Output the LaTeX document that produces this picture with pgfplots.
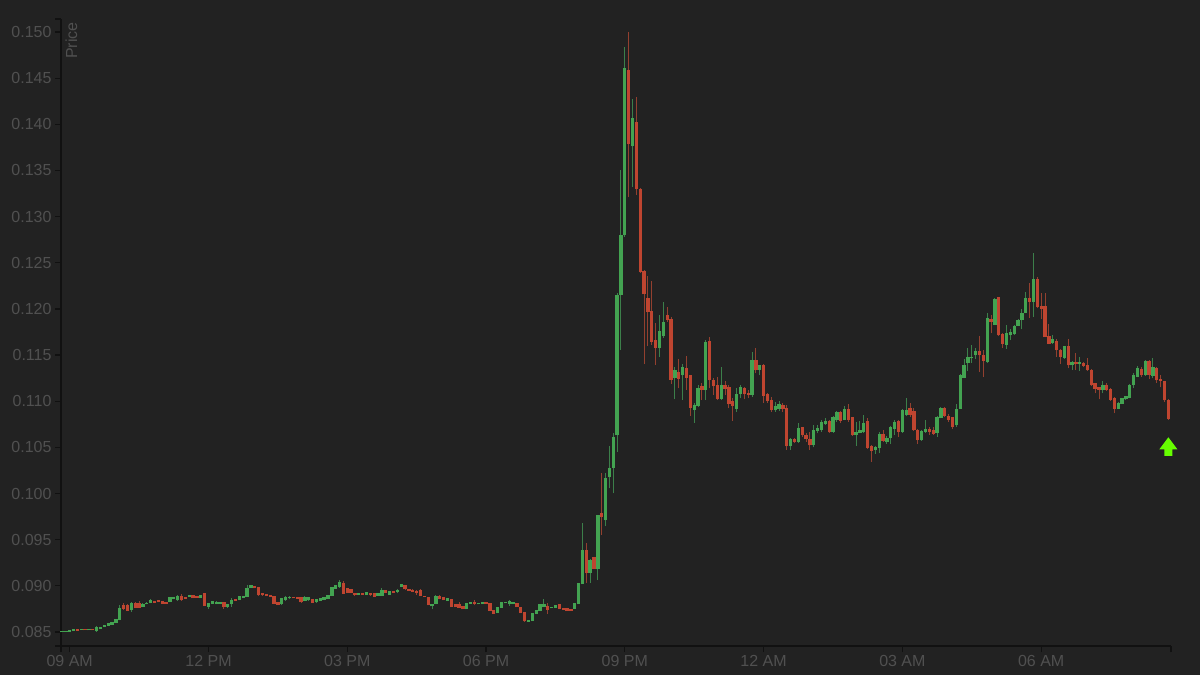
\documentclass[border=0pt]{standalone}
\usepackage{pgfplots}
\usepackage{pgfplotstable}
\usepackage{fontspec}
\setmainfont{Liberation Sans}
\pgfplotsset{compat=1.18}

\definecolor{bg}{HTML}{222222}
\definecolor{axiscol}{HTML}{111111}
\definecolor{txt}{HTML}{505050}
\definecolor{up}{HTML}{43A351}
\definecolor{down}{HTML}{BF4530}
\definecolor{upwick}{HTML}{3C7F4A}
\definecolor{downwick}{HTML}{93402F}

% i = 5 minute candle number
\pgfplotstableread{
i o h l c
0 .08500 .08510 .08498 .08508
1 .08505 .08514 .08503 .08510
2 .08510 .08518 .08508 .08515
3 .08518 .08524 .08516 .08522
4 .08522 .08525 .08518 .08520
5 .08525 .08530 .08523 .08528
6 .08525 .08527 .08519 .08521
7 .08522 .08527 .08520 .08525
8 .08525 .08527 .08520 .08522
9 .08511 .08560 .08505 .08551
10 .08537 .08552 .08532 .08547
11 .08558 .08574 .08553 .08569
12 .08573 .08592 .08568 .08587
13 .08583 .08610 .08578 .08605
14 .08605 .08643 .08600 .08638
15 .08638 .08793 .08625 .08760
16 .08789 .08811 .08739 .08757
17 .08786 .08800 .08725 .08731
18 .08739 .08820 .08717 .08811
19 .08811 .08825 .08760 .08768
20 .08811 .08840 .08760 .08768
21 .08775 .08810 .08770 .08800
22 .08805 .08820 .08800 .08812
23 .08818 .08854 .08810 .08836
24 .08829 .08835 .08818 .08822
25 .08836 .08842 .08820 .08825
26 .08829 .08835 .08805 .08811
27 .08815 .08820 .08803 .08807
28 .08829 .08875 .08822 .08869
29 .08861 .08875 .08855 .08869
30 .08847 .08900 .08840 .08890
31 .08890 .08912 .08836 .08847
32 .08876 .08882 .08860 .08865
33 .08887 .08900 .08882 .08894
34 .08898 .08903 .08865 .08869
35 .08883 .08888 .08866 .08872
36 .08876 .08900 .08870 .08894
37 .08912 .08925 .08780 .08786
38 .08775 .08815 .08753 .08811
39 .08811 .08835 .08805 .08829
40 .08807 .08832 .08800 .08825
41 .08807 .08825 .08800 .08818
42 .08818 .08825 .08753 .08775
43 .08775 .08800 .08765 .08793
44 .08804 .08865 .08775 .08840
45 .08851 .08860 .08835 .08840
46 .08854 .08895 .08845 .08890
47 .08876 .08895 .08870 .08887
48 .08883 .09009 .08878 .08973
49 .08984 .09010 .08978 .09002
50 .08991 .08997 .08972 .08977
51 .08977 .08990 .08895 .08901
52 .08912 .08918 .08895 .08901
53 .08908 .08914 .08888 .08894
54 .08898 .08905 .08880 .08887
55 .08883 .08890 .08805 .08811
56 .08825 .08830 .08795 .08800
57 .08811 .08865 .08795 .08858
58 .08847 .08890 .08840 .08872
59 .08869 .08885 .08862 .08876
60 .08876 .08880 .08865 .08869
61 .08872 .08878 .08860 .08865
62 .08869 .08875 .08818 .08825
63 .08843 .08885 .08835 .08876
64 .08847 .08875 .08840 .08869
65 .08847 .08852 .08812 .08818
66 .08825 .08860 .08815 .08854
67 .08840 .08868 .08835 .08861
68 .08847 .08875 .08842 .08869
69 .08865 .08905 .08860 .08898
70 .08898 .08992 .08890 .08984
71 .08973 .09010 .08965 .08999
72 .08991 .09064 .08980 .09035
73 .09028 .09050 .08912 .08919
74 .08966 .08975 .08920 .08926
75 .08962 .08970 .08920 .08926
76 .08919 .08925 .08895 .08901
77 .08905 .08925 .08900 .08919
78 .08919 .08925 .08902 .08908
79 .08905 .08935 .08900 .08930
80 .08919 .08925 .08895 .08901
81 .08912 .08918 .08878 .08883
82 .08894 .08925 .08888 .08919
83 .08894 .08973 .08888 .08955
84 .08948 .08955 .08920 .08926
85 .08905 .08940 .08900 .08934
86 .08941 .08948 .08925 .08930
87 .08937 .08970 .08919 .08945
88 .08991 .09020 .08985 .09013
89 .09000 .09010 .08960 .08966
90 .08962 .08968 .08942 .08948
91 .08955 .08962 .08935 .08941
92 .08941 .08955 .08898 .08926
93 .08948 .08966 .08885 .08890
94 .08890 .08895 .08878 .08883
95 .08869 .08875 .08788 .08793
96 .08782 .08802 .08746 .08796
97 .08804 .08897 .08798 .08890
98 .08890 .08897 .08860 .08865
99 .08869 .08875 .08842 .08847
100 .08840 .08872 .08835 .08865
101 .08847 .08853 .08770 .08775
102 .08793 .08800 .08770 .08775
103 .08793 .08825 .08762 .08768
104 .08775 .08782 .08745 .08750
105 .08750 .08817 .08745 .08811
106 .08811 .08825 .08805 .08818
107 .08825 .08847 .08789 .08807
108 .08804 .08816 .08798 .08811
109 .08807 .08820 .08802 .08815
110 .08815 .08820 .08802 .08807
111 .08807 .08815 .08725 .08731
112 .08731 .08738 .08697 .08703
113 .08713 .08770 .08708 .08764
114 .08768 .08828 .08762 .08822
115 .08815 .08828 .08810 .08822
116 .08811 .08847 .08782 .08829
117 .08811 .08824 .08806 .08818
118 .08811 .08817 .08770 .08775
119 .08768 .08775 .08704 .08710
120 .08713 .08720 .08613 .08620
121 .08616 .08630 .08612 .08623
122 .08623 .08710 .08617 .08703
123 .08703 .08735 .08698 .08728
124 .08728 .08800 .08722 .08793
125 .08775 .08854 .08770 .08793
126 .08775 .08811 .08699 .08746
127 .08760 .08775 .08755 .08768
128 .08768 .08795 .08762 .08789
129 .08793 .08799 .08745 .08750
130 .08757 .08763 .08740 .08746
131 .08750 .08756 .08725 .08731
132 .08746 .08752 .08725 .08731
133 .08753 .08817 .08747 .08811
134 .08811 .09034 .08805 .09028
135 .09027 .09684 .09018 .09381
136 .09388 .09461 .09034 .09143
137 .09143 .09290 .09034 .09280
138 .09309 .09316 .09184 .09190
139 .09183 .09765 .09063 .09757
140 .09786 .10226 .09551 .09750
141 .09713 .10226 .09648 .10165
142 .10183 .10515 .10056 .10273
143 .10280 .10652 .10002 .10605
144 .10634 .12170 .10453 .12151
145 .12151 .13505 .11555 .12801
146 .12801 .14837 .12780 .14610
147 .14588 .15000 .13212 .13787
148 .13765 .14274 .13321 .14061
149 .14025 .14296 .13234 .13299
150 .13299 .13310 .12390 .12400
151 .12403 .12422 .11403 .12162
152 .12118 .12357 .11598 .11970
153 .11970 .12305 .11609 .11645
154 .11653 .11847 .11392 .11580
155 .11580 .11934 .11479 .11761
156 .11710 .12078 .11685 .11858
157 .11934 .12024 .11858 .11880
158 .11888 .11912 .11187 .11238
159 .11259 .11374 .11021 .11338
160 .11309 .11458 .11140 .11248
161 .11284 .11403 .11013 .11368
162 .11360 .11490 .11122 .11259
163 .11277 .11284 .10840 .10930
164 .10913 .10978 .10767 .10959
165 .10948 .11176 .10941 .11140
166 .11165 .11201 .11013 .11129
167 .11122 .11663 .11013 .11634
168 .11652 .11700 .11140 .11230
169 .11230 .11252 .11068 .11165
170 .11176 .11259 .11013 .11032
171 .11032 .11368 .11013 .11176
172 .11176 .11222 .11068 .11140
173 .11151 .11176 .10923 .10970
174 .10995 .11032 .10789 .10951
175 .10923 .11143 .10887 .11078
176 .11078 .11176 .11032 .11151
177 .11140 .11157 .11021 .11078
178 .11086 .11122 .11032 .11073
179 .11068 .11537 .11049 .11439
180 .11439 .11580 .11303 .11338
181 .11346 .11392 .11284 .11382
182 .11392 .11400 .10978 .11060
183 .11068 .11086 .10978 .11003
184 .11005 .11049 .10887 .10905
185 .10905 .10995 .10887 .10941
186 .10923 .11005 .10897 .10962
187 .10959 .10978 .10887 .10916
188 .10923 .10959 .10472 .10515
189 .10515 .10605 .10472 .10588
190 .10591 .10605 .10544 .10562
191 .10562 .10761 .10548 .10707
192 .10713 .10724 .10616 .10634
193 .10634 .10652 .10562 .10591
194 .10591 .10670 .10472 .10526
195 .10526 .10743 .10501 .10681
196 .10681 .10743 .10652 .10707
197 .10688 .10797 .10670 .10767
198 .10754 .10815 .10743 .10779
199 .10779 .10797 .10659 .10667
200 .10667 .10840 .10659 .10826
201 .10797 .10897 .10779 .10883
202 .10876 .10897 .10767 .10789
203 .10804 .10948 .10797 .10913
204 .10913 .10966 .10779 .10804
205 .10820 .10833 .10623 .10634
206 .10634 .10779 .10515 .10663
207 .10663 .10789 .10652 .10688
208 .10670 .10851 .10652 .10754
209 .10779 .10815 .10480 .10498
210 .10508 .10526 .10345 .10464
211 .10480 .10515 .10429 .10498
212 .10498 .10670 .10436 .10645
213 .10645 .10688 .10562 .10572
214 .10562 .10623 .10537 .10598
215 .10605 .10732 .10537 .10717
216 .10707 .10797 .10634 .10767
217 .10779 .10797 .10616 .10670
218 .10675 .10913 .10659 .10897
219 .10851 .11032 .10843 .10905
220 .10923 .10978 .10833 .10858
221 .10890 .10923 .10678 .10688
222 .10688 .10695 .10537 .10580
223 .10580 .10688 .10573 .10670
224 .10675 .10797 .10659 .10695
225 .10695 .10724 .10634 .10670
226 .10681 .10717 .10634 .10652
227 .10659 .10840 .10616 .10826
228 .10820 .10934 .10815 .10923
229 .10923 .10934 .10826 .10840
230 .10840 .10862 .10779 .10804
231 .10820 .10833 .10695 .10724
232 .10743 .10966 .10724 .10913
233 .10923 .11295 .10913 .11284
234 .11259 .11455 .11248 .11382
235 .11414 .11574 .11330 .11469
236 .11469 .11609 .11414 .11479
237 .11501 .11574 .11455 .11537
238 .11537 .11707 .11320 .11501
239 .11501 .11555 .11266 .11439
240 .11425 .11959 .11414 .11899
241 .11888 .11934 .11736 .11858
242 .11836 .12116 .11825 .12105
243 .12122 .12133 .11707 .11718
244 .11728 .11739 .11574 .11627
245 .11616 .11825 .11566 .11736
246 .11718 .11779 .11663 .11743
247 .11729 .11825 .11718 .11815
248 .11825 .11888 .11815 .11872
249 .11880 .11995 .11779 .11953
250 .11959 .12187 .11953 .12108
251 .12108 .12278 .11899 .12079
252 .12079 .12603 .11916 .12321
253 .12321 .12349 .12007 .12024
254 .12032 .12173 .11888 .12007
255 .12024 .12169 .11692 .11699
256 .11699 .11837 .11616 .11627
257 .11634 .11717 .11620 .11671
258 .11645 .11671 .11484 .11563
259 .11555 .11563 .11403 .11479
260 .11469 .11598 .11458 .11591
261 .11591 .11671 .11357 .11392
262 .11392 .11440 .11338 .11421
263 .11417 .11519 .11338 .11403
264 .11403 .11482 .11330 .11417
265 .11410 .11428 .11368 .11385
266 .11385 .11465 .11330 .11338
267 .11330 .11345 .11165 .11176
268 .11187 .11195 .11086 .11140
269 .11151 .11158 .11021 .11122
270 .11129 .11222 .11086 .11176
271 .11176 .11195 .11114 .11129
272 .11129 .11140 .11005 .11021
273 .11032 .11043 .10869 .10923
274 .10923 .10995 .10916 .10978
275 .10978 .11038 .10970 .11032
276 .11024 .11060 .11013 .11049
277 .11038 .11187 .11032 .11176
278 .11176 .11303 .11140 .11284
279 .11266 .11382 .11259 .11357
280 .11349 .11374 .11266 .11284
281 .11284 .11447 .11277 .11428
282 .11428 .11447 .11238 .11284
283 .11277 .11465 .11248 .11363
284 .11357 .11368 .11201 .11230
285 .11238 .11284 .11150 .11222
286 .11212 .11220 .10995 .11013
287 .11013 .11020 .10797 .10815
}\candles

\pgfdeclareplotmark{liftarrow}{%
  \pgfpathmoveto{\pgfpoint{0pt}{9.7pt}}%
  \pgfpathlineto{\pgfpoint{9pt}{-2.3pt}}%
  \pgfpathlineto{\pgfpoint{4pt}{-2.3pt}}%
  \pgfpathlineto{\pgfpoint{4pt}{-9pt}}%
  \pgfpathlineto{\pgfpoint{-4pt}{-9pt}}%
  \pgfpathlineto{\pgfpoint{-4pt}{-2.3pt}}%
  \pgfpathlineto{\pgfpoint{-9pt}{-2.3pt}}%
  \pgfpathclose
  \pgfusepathqfill
}

\pgfplotsset{
  candle/.style 2 args={
    draw=none, mark=none, forget plot,
    error bars/.cd, y dir=plus, y explicit, error mark=none,
    error bar style={draw=#1, line width=#2, solid},
  },
}

\begin{document}
\begin{tikzpicture}[x=1pt,y=1pt]
  \useasboundingbox (0,0) rectangle (1200,675);
  \fill[bg] (0,0) rectangle (1200,675);
  \begin{axis}[
    at={(61pt,29pt)}, anchor=south west,
    scale only axis, width=1110pt, height=627pt,
    xmin=-0.26, xmax=287.68,
    ymin=0.08348, ymax=0.15141,
    clip=false,
    axis x line=bottom, axis y line=left,
    axis line style={draw=axiscol, line width=1.5pt, -},
    tick align=outside,
    major tick length=6pt,
    tick style={draw=axiscol, line width=1.2pt},
    xtick={2,38,74,110,146,182,218,254},
    xticklabels={09 AM,12 PM,03 PM,06 PM,09 PM,12 AM,03 AM,06 AM},
    extra x ticks={-0.26,287.68},
    extra x tick labels={},
    ytick={0.085,0.09,0.095,0.1,0.105,0.11,0.115,0.12,0.125,0.13,0.135,0.14,0.145,0.15},
    extra y ticks={0.08348,0.15141},
    extra y tick labels={},
    /pgf/number format/assume math mode=true,
    yticklabel style={/pgf/number format/.cd, fixed, fixed zerofill, precision=3},
    ticklabel style={text=txt, font=\fontsize{16}{18}\selectfont},
    ylabel={Price},
    every axis y label/.style={at={(axis description cs:0.0093,1)}, rotate=90, anchor=east,
      text=txt, font=\fontsize{16}{18}\selectfont},
  ]
    % wicks
    \addplot[candle={upwick}{1pt}] table[x=i, y=l,
      y error plus expr={(\thisrow{c}>=\thisrow{o})*(\thisrow{h}-\thisrow{l})}] {\candles};
    \addplot[candle={downwick}{1pt}] table[x=i, y=l,
      y error plus expr={(\thisrow{c}<\thisrow{o})*(\thisrow{h}-\thisrow{l})}] {\candles};
    % bodies, about half a pixel longer at each end (the original rects have a stroke)
    \addplot[candle={up}{3.3pt}] table[x=i, y expr=\thisrow{o}-0.00005,
      y error plus expr={(\thisrow{c}>=\thisrow{o})*(\thisrow{c}-\thisrow{o}+0.0001)}] {\candles};
    \addplot[candle={down}{3.3pt}] table[x=i, y expr=\thisrow{c}-0.00005,
      y error plus expr={(\thisrow{c}<\thisrow{o})*(\thisrow{o}-\thisrow{c}+0.0001)}] {\candles};
    % marker under the last candle
    \addplot[only marks, mark=liftarrow, color={rgb,255:red,102;green,255;blue,0}, forget plot]
      coordinates {(287,0.10504)};
  \end{axis}
\end{tikzpicture}
\end{document}
